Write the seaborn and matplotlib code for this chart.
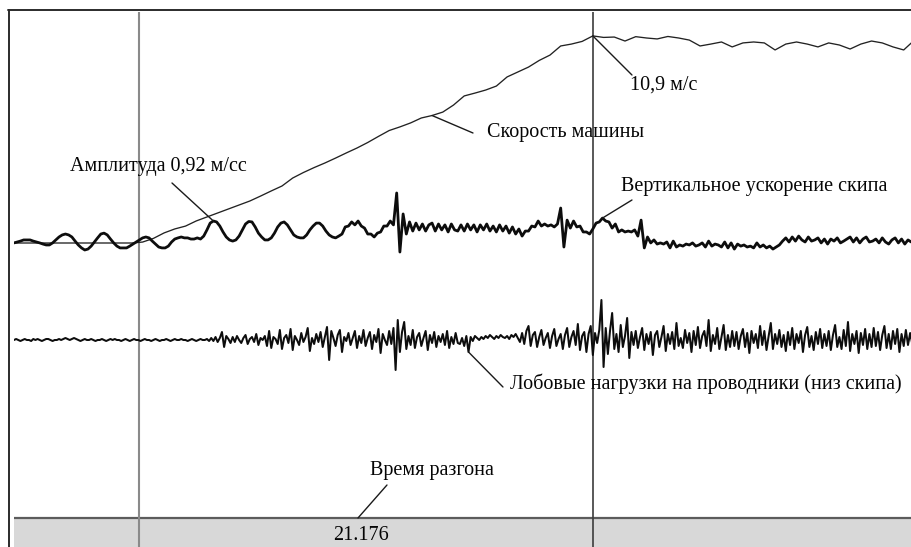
import numpy as np
import pandas as pd
import matplotlib
matplotlib.use("Agg")
import matplotlib.pyplot as plt
import seaborn as sns
from matplotlib.lines import Line2D

# ---------------------------------------------------------------- data
accel_time_s = 21.176            # время разгона между курсорами, с
cursor_start_s = 5.853           # начало разгона, с
cursor_end_s = cursor_start_s + accel_time_s
t_end_s = 41.84

# скорость машины, м/с (шаг 0.5 с)
speed_dt = 0.5
speed_ms = [
    0.00, 0.00, 0.00, 0.00, 0.00, 0.00, 0.00, 0.00, 0.00, 0.00, 0.00, 0.00,
    0.05, 0.24, 0.53, 0.74, 0.89, 1.16, 1.37, 1.58, 1.79, 2.00, 2.21, 2.47,
    2.74, 3.00, 3.42, 3.71, 3.97, 4.21, 4.47, 4.74, 5.00, 5.29, 5.61, 5.92,
    6.11, 6.32, 6.58, 6.71, 6.89, 7.26, 7.74, 7.89, 8.05, 8.26, 8.74, 9.00,
    9.26, 9.61, 9.89, 10.37, 10.47, 10.61, 10.90, 10.82, 10.84, 10.63, 10.86, 10.79,
    10.74, 10.87, 10.79, 10.68, 10.37, 10.47, 10.58, 10.32, 10.53, 10.58, 10.53, 10.16,
    10.47, 10.58, 10.47, 10.32, 10.53, 10.42, 10.21, 10.47, 10.63, 10.53, 10.32, 10.16,
    10.68,
]

# вертикальное ускорение скипа, м/с² (шаг 0.15 с)
accel_dt = 0.15
accel_ms2 = [
    -0.04, 0.00, 0.04, 0.09, 0.09, 0.09, 0.04, 0.00, -0.04, -0.09, -0.13, -0.13, -0.04, 0.09, 0.22, 0.31, 0.35, 0.31, 0.22, 0.04,
    -0.13, -0.26, -0.35, -0.31, -0.18, 0.00, 0.18, 0.35, 0.39, 0.31, 0.13, -0.04, -0.18, -0.26, -0.26, -0.26, -0.18, -0.09, 0.00, 0.09,
    0.18, 0.22, 0.18, 0.04, -0.09, -0.22, -0.26, -0.26, -0.18, 0.00, 0.13, 0.18, 0.22, 0.18, 0.18, 0.13, 0.13, 0.18, 0.13, 0.26,
    0.53, 0.83, 0.92, 0.88, 0.70, 0.44, 0.22, 0.09, 0.04, 0.09, 0.26, 0.53, 0.79, 0.90, 0.88, 0.66, 0.39, 0.22, 0.09, 0.09,
    0.18, 0.39, 0.66, 0.83, 0.88, 0.75, 0.53, 0.31, 0.22, 0.18, 0.18, 0.31, 0.53, 0.70, 0.83, 0.83, 0.70, 0.48, 0.31, 0.22,
    0.18, 0.26, 0.35, 0.66, 0.70, 0.88, 0.75, 0.92, 0.70, 0.61, 0.35, 0.35, 0.22, 0.39, 0.44, 0.70, 0.70, 0.92, 0.75, 2.15,
    -0.44, 1.23, 0.35, 0.88, 0.48, 0.83, 0.53, 0.79, 0.48, 0.75, 0.83, 0.48, 0.79, 0.53, 0.75, 0.44, 0.79, 0.53, 0.48, 0.75,
    0.48, 0.79, 0.53, 0.75, 0.44, 0.75, 0.53, 0.79, 0.48, 0.70, 0.44, 0.75, 0.48, 0.70, 0.39, 0.66, 0.35, 0.57, 0.26, 0.48,
    0.48, 0.70, 0.66, 0.92, 0.70, 0.79, 0.70, 0.75, 0.66, 0.79, 1.49, -0.22, 0.96, 0.61, 0.92, 0.66, 0.70, 0.44, 0.44, 0.35,
    0.57, 0.83, 0.88, 1.05, 0.92, 0.88, 0.61, 0.79, 0.44, 0.53, 0.44, 0.48, 0.44, 0.53, 0.26, 0.96, -0.26, 0.22, -0.04, 0.09,
    -0.09, -0.04, -0.09, 0.00, -0.26, 0.04, -0.22, -0.13, -0.18, -0.09, -0.13, -0.04, -0.18, -0.13, -0.04, -0.22, 0.04, -0.18, -0.09, -0.13,
    -0.22, 0.00, -0.26, -0.04, -0.31, -0.09, -0.18, -0.13, -0.22, -0.18, -0.26, -0.04, -0.22, -0.13, -0.26, -0.18, -0.31, -0.22, -0.13, 0.04,
    0.18, 0.00, 0.22, 0.04, 0.26, 0.09, 0.00, 0.22, 0.04, 0.09, 0.18, -0.04, 0.13, -0.09, 0.13, 0.04, 0.18, -0.04, 0.04, 0.13,
    0.22, 0.00, 0.18, -0.04, 0.13, 0.22, 0.00, 0.04, 0.13, -0.04, 0.18, 0.00, -0.09, 0.09, 0.18, -0.04, 0.13, -0.09, 0.09, 0.00,
]

# лобовые нагрузки на проводники, усл. ед. (шаг 0.1 с)
load_dt = 0.1
load_rel = [
    0, 1, 0, -1, 0, 1, 0, 0, -1, 1, 0, 1, 0, -1, 0, 1, 1, 0, -1, 0,
    0, 1, 0, 1, 2, 1, 0, 1, 2, 1, 0, -1, 0, 1, 0, 0, 1, 0, -1, 0,
    0, 1, 0, -1, 0, 1, 0, 1, 0, 0, -1, 0, 1, 0, -1, 0, 1, 0, 0, -1,
    0, 1, 0, 0, -1, 0, 1, 0, -1, 0, 0, 1, 0, -1, 0, 1, 0, 0, 1, 0,
    0, -1, 0, 1, 0, -1, 0, 1, 0, 0, 1, -1, 2, -1, 3, -2, 2, 8, -7, 4,
    1, -3, 3, -2, 4, 0, -3, 2, 5, -4, 1, 3, -2, 6, -5, 2, 0, 4, -6, 9,
    -8, 3, 1, -4, 10, -9, 2, 5, -3, 11, -10, 4, 0, -5, 7, -2, 3, 12, -11, 2,
    -4, 6, -2, 8, -7, 3, 13, -20, 9, 2, -6, 5, 10, -12, 3, -1, 7, -5, 2, 9,
    -8, 4, -3, 10, -6, 2, 8, -9, 5, -2, 11, -13, 6, 0, -5, 9, -4, 12, -30, 20,
    -12, 8, 18, -9, 4, -5, 10, -8, 3, 7, -6, 2, 9, -10, 5, -3, 8, -7, 4, -2,
    6, -5, 9, -8, 3, -4, 7, -3, -4, 2, -6, 4, -12, 3, -1, 4, 2, 0, 3, 1,
    4, 2, 5, 3, 1, 4, 2, 5, 3, 2, 4, 1, 5, 3, 6, 2, -2, 7, -4, 9,
    14, -6, 5, 8, -7, 3, 10, -5, 2, 7, -8, 4, 11, -6, 1, 6, -9, 5, 12, -7,
    3, 9, -5, 16, -10, 4, 8, -12, 6, 14, -15, 7, -3, 10, 40, -27, 12, -14, 9, 27,
    -9, 6, -12, 15, -7, 4, 22, -18, 8, -5, 9, -8, 3, 12, -10, 6, -4, 8, -15, 5,
    9, -7, 3, 14, -11, 6, -4, 8, -9, 17, -6, 2, -8, 10, -3, 7, -12, 9, -5, 13,
    -8, 4, 9, -6, 20, -11, 5, -4, 12, -9, 3, 15, -10, 5, -7, 9, -6, 8, -9, 4,
    11, -7, 7, -13, 9, -3, 6, -8, 14, -5, 9, -10, 4, 17, -9, 6, -4, 10, -7, 5,
    -11, 8, -5, 12, -9, 6, -3, 9, -12, 5, 13, -7, 4, -10, 8, -4, 11, -8, 6, -6,
    9, -10, 5, 15, -7, 3, -9, 10, -6, 18, -11, 6, -4, 9, -13, 7, -5, 11, -9, 6,
    -7, 12, -6, 8, -10, 5, 14, -8, 6, -9, 9, -4, 11, -12, 6, -6, 10, -5, 7, -4,
]

# ------------------------------------------------- channel placement
# screen units of the trace area: 1 unit = 1 px vertically
SPEED_ZERO, SPEED_GAIN = 304.0, 19.0
ACCEL_ZERO, ACCEL_GAIN = 305.0, 22.8
LOAD_ZERO, LOAD_GAIN = 207.0, 1.0
BAND_TOP = 29.0


def channel(values, dt, zero, gain):
    v = np.asarray(values, dtype=float)
    t = np.arange(len(v)) * dt
    return pd.DataFrame({"t": t, "value": v, "screen": zero + gain * v})


speed = channel(speed_ms, speed_dt, SPEED_ZERO, SPEED_GAIN)
accel = channel(accel_ms2, accel_dt, ACCEL_ZERO, ACCEL_GAIN)
load = channel(load_rel, load_dt, LOAD_ZERO, LOAD_GAIN)

# ------------------------------------------------------------ figure
sns.set_theme(style="white")
plt.rcParams["font.family"] = ["Liberation Serif", "DejaVu Serif"]

W, H = 911, 547
fig = plt.figure(figsize=(W / 100, H / 100), dpi=100)
fig.patch.set_facecolor("white")

ax = fig.add_axes([14 / W, 0, (W - 14) / W, (H - 12) / H])

# outer frame (top and left edges)
fig.add_artist(Line2D([8 / W, 1], [1 - 9.5 / H] * 2, transform=fig.transFigure,
                      color="#2b2b2b", lw=1.4))
fig.add_artist(Line2D([8.5 / W] * 2, [0, 1 - 9.5 / H], transform=fig.transFigure,
                      color="#2b2b2b", lw=1.4))

# time band
ax.axhspan(0, BAND_TOP, color="#d8d8d8", zorder=0, lw=0)
ax.axhline(BAND_TOP, color="#5c5c5c", lw=1.6, zorder=1)

# cursors
ax.axvline(cursor_start_s, color="#8a8a8a", lw=1.5, zorder=2)
ax.axvline(cursor_end_s, color="#3c3c3c", lw=1.2, zorder=2)

# traces
sns.lineplot(data=speed, x="t", y="screen", ax=ax, color="#222222", lw=0.95,
             estimator=None, sort=False, legend=False, zorder=3)
sns.lineplot(data=accel, x="t", y="screen", ax=ax, color="#0d0d0d", lw=2.0,
             estimator=None, sort=False, legend=False, zorder=4)
sns.lineplot(data=load, x="t", y="screen", ax=ax, color="#0d0d0d", lw=1.45,
             estimator=None, sort=False, legend=False, zorder=4)
ax.set_xlim(0, t_end_s)
ax.set_ylim(0, H - 12)
ax.axis("off")


def px(x, y):
    """Label placement given in image pixels -> data units."""
    return (x - 14) / 21.44, H - y


text_kw = dict(fontsize=14.5, color="#050505", va="center", zorder=6)
lead_kw = dict(arrowstyle="-", color="#1a1a1a", lw=1.0, shrinkA=0, shrinkB=0)

# амплитуда первого колебания
first = accel[accel["t"] < 12].sort_values("value").iloc[-1]
amp_txt = f"Амплитуда {first['value']:.2f} м/сс".replace(".", ",")
ax.text(*px(70, 167), amp_txt, ha="left", **text_kw)
ax.annotate("", xy=(first["t"], first["screen"]), xytext=px(172, 183),
            arrowprops=lead_kw, zorder=6)

# максимальная скорость
top = speed.sort_values("value").iloc[-1]
ax.text(*px(630, 85), f"{top['value']:.1f} м/с".replace(".", ","), ha="left", **text_kw)
ax.annotate("", xy=(top["t"], top["screen"]), xytext=px(632, 75),
            arrowprops=lead_kw, zorder=6)

# скорость машины
sp = speed.iloc[39]
ax.text(*px(487, 133), "Скорость машины", ha="left", **text_kw)
ax.annotate("", xy=(sp["t"], sp["screen"]), xytext=px(473, 133),
            arrowprops=lead_kw, zorder=6)

# вертикальное ускорение
ac = accel.iloc[183]
ax.text(*px(621, 187), "Вертикальное ускорение скипа", ha="left", **text_kw)
ax.annotate("", xy=(ac["t"], ac["screen"]), xytext=px(632, 200),
            arrowprops=lead_kw, zorder=6)

# лобовые нагрузки
ld = load.iloc[212]
ax.text(*px(510, 384), "Лобовые нагрузки на проводники (низ скипа)", ha="left", **text_kw)
ax.annotate("", xy=(ld["t"], ld["screen"]), xytext=px(503, 387),
            arrowprops=lead_kw, zorder=6)

# время разгона
ax.text(*px(370, 470), "Время разгона", ha="left", **text_kw)
ax.annotate("", xy=px(358, 518), xytext=px(387, 485), arrowprops=lead_kw, zorder=6)
ax.text(*px(361, 535), f"{accel_time_s:.3f}", ha="center", **text_kw)

fig.savefig("out.png", dpi=100, facecolor="white")
